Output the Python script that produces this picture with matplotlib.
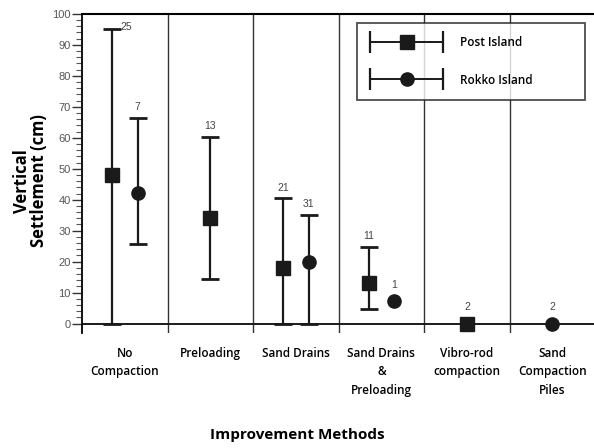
import numpy as np
import matplotlib
matplotlib.use("Agg")
import matplotlib.pyplot as plt
from matplotlib.container import ErrorbarContainer
from matplotlib.legend_handler import HandlerErrorbar

# Improvement methods (x categories)
methods = ["No\nCompaction", "Preloading", "Sand Drains",
           "Sand Drains\n&\nPreloading", "Vibro-rod\ncompaction",
           "Sand\nCompaction\nPiles"]

# Post Island: mean, min, max settlement (cm) and number of cases
post_mean = [48, 34, 18, 13.2, 0, np.nan]
post_lo = [0, 14.5, 0, 4.8, np.nan, np.nan]
post_hi = [95.2, 60.3, 40.5, 24.8, np.nan, np.nan]
post_n = [25, 13, 21, 11, 2, None]

# Rokko Island
rokko_mean = [42.3, np.nan, 20, 7.4, np.nan, 0]
rokko_lo = [25.8, np.nan, 0, np.nan, np.nan, np.nan]
rokko_hi = [66.4, np.nan, 35.2, np.nan, np.nan, np.nan]
rokko_n = [7, None, 31, 1, None, 2]

LABEL_FONT = ["Open Sans", "DejaVu Sans"]
NUM_FONT = ["Liberation Sans Narrow", "Liberation Sans", "DejaVu Sans"]

fig = plt.figure(figsize=(5.94, 4.48), dpi=100)
ax = fig.add_axes([0.138, 0.257, 0.864, 0.712])

x = np.arange(len(methods)) + 0.5


def offsets(a, b):
    # shift pairs apart when both islands have data in a category
    both = ~np.isnan(np.array(a, float)) & ~np.isnan(np.array(b, float))
    return np.where(both, -0.15, 0.0), np.where(both, 0.15, 0.0)


off_p, off_r = offsets(post_mean, rokko_mean)


def draw_series(xs, mean, lo, hi, n, marker, ms):
    mean = np.array(mean, float)
    lo = np.array(lo, float)
    hi = np.array(hi, float)
    has_err = ~np.isnan(lo)
    if has_err.any():
        ax.errorbar(xs[has_err], mean[has_err],
                    yerr=[mean[has_err] - lo[has_err], hi[has_err] - mean[has_err]],
                    fmt=marker, ms=ms, color="#1a1a1a", ecolor="#1a1a1a",
                    elinewidth=1.6, capsize=6.5, capthick=2.0, zorder=5, clip_on=False)
    no_err = ~has_err & ~np.isnan(mean)
    ax.plot(xs[no_err], mean[no_err], marker, ms=ms, color="#1a1a1a",
            zorder=5, clip_on=False)
    for i, cnt in enumerate(n):
        if cnt is None:
            continue
        top = hi[i] if has_err[i] else mean[i]
        if has_err[i] and top > 90:
            ax.annotate(str(cnt), (xs[i], top), xytext=(6.5, 1), textcoords="offset points",
                        ha="left", va="center", fontsize=7.5, color="#444",
                        family=NUM_FONT)
        else:
            gap = 4 if has_err[i] else 8
            ax.annotate(str(cnt), (xs[i], top), xytext=(0, gap), textcoords="offset points",
                        ha="center", va="bottom", fontsize=7.5, color="#444",
                        family=NUM_FONT)


draw_series(x + off_p, post_mean, post_lo, post_hi, post_n, "s", 9.5)
draw_series(x + off_r, rokko_mean, rokko_lo, rokko_hi, rokko_n, "o", 9.5)

# dividers between methods and baseline at zero
for b in range(1, len(methods)):
    ax.axvline(b, color="#333333", lw=1.0, zorder=1)
ax.axhline(0, color="#1a1a1a", lw=1.4, zorder=2)

ax.set_xlim(0, len(methods))
ax.set_ylim(-3, 100)
ax.spines["right"].set_visible(False)
ax.spines["bottom"].set_visible(False)
ax.spines["top"].set_linewidth(1.5)
ax.spines["left"].set_linewidth(1.3)

ax.set_yticks(np.arange(0, 101, 10))
ax.set_yticks(np.arange(0, 101, 2), minor=True)
ax.tick_params(axis="y", which="major", length=7, width=1, color="#333",
               labelsize=8, labelcolor="#555", pad=1)
ax.tick_params(axis="y", which="minor", length=4, width=0.8, color="#555")
for lab in ax.get_yticklabels():
    lab.set_family(NUM_FONT)

ax.set_xticks(x)
ax.set_xticklabels(methods, fontsize=8.5, family=LABEL_FONT, weight="semibold",
                   linespacing=1.55, va="top")
ax.tick_params(axis="x", length=0, pad=10)

ax.set_ylabel("Vertical\nSettlement (cm)", fontsize=12, family=LABEL_FONT,
              weight="bold", linespacing=0.95)
ax.yaxis.set_label_coords(-0.066, 0.476)
fig.text(0.5, 0.029, "Improvement Methods", ha="center", va="center",
         fontsize=11, family=LABEL_FONT, weight="bold")

# legend with horizontal error bars
h_post = ax.errorbar([np.nan], [np.nan], xerr=[[1], [1]], fmt="s", ms=9.5,
                     color="#1a1a1a", elinewidth=1.4, capsize=8, capthick=1.6,
                     label="Post Island")
h_rokko = ax.errorbar([np.nan], [np.nan], xerr=[[1], [1]], fmt="o", ms=9.5,
                      color="#1a1a1a", elinewidth=1.4, capsize=8, capthick=1.6,
                      label="Rokko Island")
leg = ax.legend(handles=[h_post, h_rokko], loc="upper left",
                bbox_to_anchor=(0.536, 0.972, 0.444, 0.0), mode="expand",
                borderaxespad=0, fancybox=False, edgecolor="#222",
                handlelength=6.2, handletextpad=1.4, borderpad=1.1,
                labelspacing=2.1, prop={"family": LABEL_FONT, "weight": "semibold", "size": 8.5},
                handler_map={ErrorbarContainer: HandlerErrorbar(xerr_size=3.1)})
leg.get_frame().set_linewidth(1.3)

fig.savefig("out.png", dpi=100)
